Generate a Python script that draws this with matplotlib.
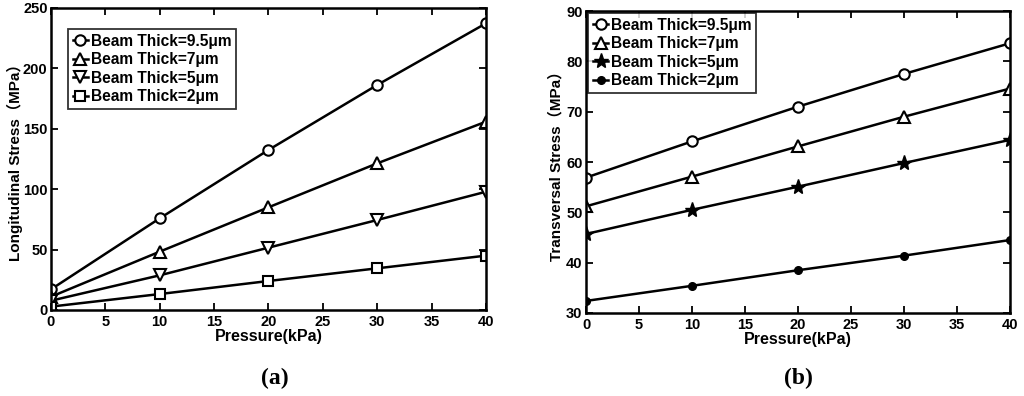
import numpy as np
import matplotlib
matplotlib.use('Agg')
import matplotlib.pyplot as plt

plt.rcParams['font.family'] = ['Liberation Sans', 'Noto Sans CJK SC', 'DejaVu Sans']
plt.rcParams['font.weight'] = 'bold'

pressure = [0, 10, 20, 30, 40]

labels = ['Beam Thick=9.5μm', 'Beam Thick=7μm', 'Beam Thick=5μm', 'Beam Thick=2μm']

# (a) longitudinal stress, MPa
long_95 = [17.1, 75.9, 132.5, 186.3, 237.3]
long_7 = [11.0, 48.3, 85.0, 121.4, 155.9]
long_5 = [7.7, 28.7, 51.6, 74.5, 97.9]
long_2 = [2.8, 13.2, 24.0, 34.5, 45.0]

# (b) transversal stress, MPa
trans_95 = [56.9, 64.1, 71.0, 77.5, 83.6]
trans_7 = [51.2, 57.1, 63.1, 69.0, 74.6]
trans_5 = [45.7, 50.5, 55.1, 59.8, 64.4]
trans_2 = [32.4, 35.4, 38.5, 41.4, 44.5]

fig = plt.figure(figsize=(10.24, 3.96), dpi=100)
ax1 = fig.add_axes([0.0498, 0.2172, 0.4248, 0.7626])
ax2 = fig.add_axes([0.5723, 0.2096, 0.4141, 0.7626])


def style_axes(ax):
    ax.tick_params(direction='in', top=True, right=True, length=5, width=1.3,
                   labelsize=10.5, pad=2.5)
    ax.tick_params(axis='x', pad=3.5)
    for s in ax.spines.values():
        s.set_linewidth(1.8)
    for t in ax.get_xticklabels() + ax.get_yticklabels():
        t.set_fontweight('bold')
    ax.set_xlim(0, 40)
    ax.set_xticks(np.arange(0, 41, 5))
    ax.set_xlabel('Pressure(kPa)', fontsize=11.5, fontweight='bold', labelpad=0)


def style_legend(leg):
    leg.get_frame().set_linewidth(1.3)
    for t in leg.get_texts():
        t.set_fontweight('bold')


kw = dict(color='black', lw=1.8, mew=1.5)
leg_kw = dict(loc='upper left', fontsize=11.2, frameon=True, fancybox=False,
              edgecolor='black', handlelength=1.0, handletextpad=0.15,
              borderpad=0.3, labelspacing=0.22, borderaxespad=0)

ax1.plot(pressure, long_95, marker='o', mfc='white', ms=7.5, label=labels[0], **kw)
ax1.plot(pressure, long_7, marker='^', mfc='white', ms=8, label=labels[1], **kw)
ax1.plot(pressure, long_5, marker='v', mfc='white', ms=8, label=labels[2], **kw)
ax1.plot(pressure, long_2, marker='s', mfc='white', ms=6.5, label=labels[3], **kw)
ax1.set_ylim(0, 250)
ax1.set_yticks(np.arange(0, 251, 50))
style_axes(ax1)
ax1.set_ylabel('Longitudinal Stress（MPa）', fontsize=11, fontweight='bold', labelpad=0)
leg1 = ax1.legend(bbox_to_anchor=(0.039, 0.93), **leg_kw)
style_legend(leg1)

ax2.plot(pressure, trans_95, marker='o', mfc='white', ms=7.5, label=labels[0], **kw)
ax2.plot(pressure, trans_7, marker='^', mfc='white', ms=8, label=labels[1], **kw)
ax2.plot(pressure, trans_5, marker='*', mfc='black', ms=11, label=labels[2],
         color='black', lw=1.8, mew=1.0)
ax2.plot(pressure, trans_2, marker='o', mfc='black', ms=5.5, label=labels[3],
         color='black', lw=1.8, mew=1.0)
ax2.set_ylim(30, 90)
ax2.set_yticks(np.arange(30, 91, 10))
style_axes(ax2)
ax2.set_ylabel('Transversal Stress（MPa）', fontsize=11, fontweight='bold', labelpad=2)
leg2 = ax2.legend(bbox_to_anchor=(0.005, 0.993), **leg_kw)
style_legend(leg2)

fig.text(0.2686, 0.045, '(a)', ha='center', va='center', fontsize=17,
         fontweight='bold', family='Liberation Serif')
fig.text(0.7793, 0.045, '(b)', ha='center', va='center', fontsize=17,
         fontweight='bold', family='Liberation Serif')

fig.savefig('out.png', dpi=100)
